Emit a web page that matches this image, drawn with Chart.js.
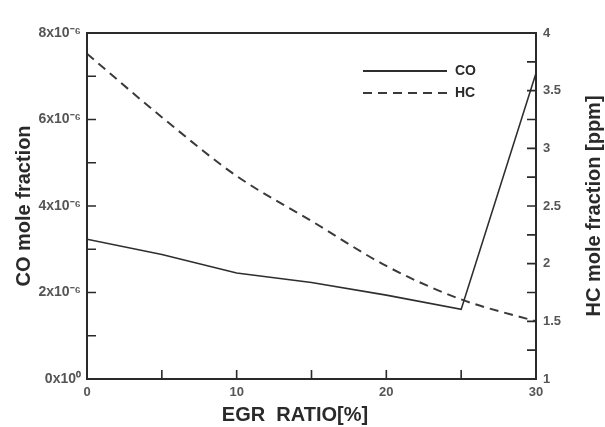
<!DOCTYPE html>
<html lang="en">
<head>
    <meta charset="UTF-8">
    <title>CO / HC mole fraction vs EGR ratio</title>
    <script src="https://cdn.jsdelivr.net/npm/chart.js"></script>
    <style>
        html, body { margin: 0; padding: 0; background: #fff; }
        #wrap { width: 605px; height: 427px; }
    </style>
</head>
<body>
    <div id="wrap"><canvas id="chart" width="605" height="427"></canvas></div>

    <script>
        // values
        const egrRatio = [0, 5, 10, 15, 20, 25, 30];
        const coFraction = [3.23e-6, 2.88e-6, 2.45e-6, 2.23e-6, 1.94e-6, 1.61e-6, 7.07e-6];
        const hcFraction = [3.82, 3.27, 2.76, 2.37, 1.98, 1.69, 1.5];

        const leftTicks = [0, 2, 4, 6, 8]; // x10^-6, labelled ones
        const xTickLabels = [0, 10, 20, 30];
        const rightTickLabels = [1, 1.5, 2, 2.5, 3, 3.5, 4];

        const FONT = "'Liberation Sans', Arial, sans-serif";
        const INK = "#2a2a2a";

        function toPoints(xs, ys) {
            return xs.map((x, i) => ({ x: x, y: ys[i] }));
        }

        // inward ticks, frame, legend and the axis titles
        const framePlugin = {
            id: "frame",
            afterDraw(chart) {
                const ctx = chart.ctx;
                const a = chart.chartArea;
                ctx.save();
                ctx.strokeStyle = INK;
                ctx.lineWidth = 1.6;
                const tick = 9;

                ctx.beginPath();
                chart.scales.x.ticks.forEach(t => {
                    const px = chart.scales.x.getPixelForValue(t.value);
                    ctx.moveTo(px, a.bottom);
                    ctx.lineTo(px, a.bottom - tick);
                });
                chart.scales.y.ticks.forEach(t => {
                    const py = chart.scales.y.getPixelForValue(t.value);
                    ctx.moveTo(a.left, py);
                    ctx.lineTo(a.left + tick, py);
                });
                chart.scales.y2.ticks.forEach(t => {
                    const py = chart.scales.y2.getPixelForValue(t.value);
                    ctx.moveTo(a.right, py);
                    ctx.lineTo(a.right - tick, py);
                });
                ctx.stroke();

                ctx.lineWidth = 2;
                ctx.strokeRect(a.left, a.top, a.right - a.left, a.bottom - a.top);

                // legend
                const items = chart.data.datasets;
                const lx0 = 363, lx1 = 447;
                items.forEach((ds, i) => {
                    const ly = 71 + i * 22;
                    ctx.beginPath();
                    ctx.setLineDash(ds.borderDash || []);
                    ctx.lineWidth = 1.8;
                    ctx.strokeStyle = ds.borderColor;
                    ctx.moveTo(lx0, ly);
                    ctx.lineTo(lx1, ly);
                    ctx.stroke();
                    ctx.setLineDash([]);
                    ctx.fillStyle = INK;
                    ctx.font = "bold 14px " + FONT;
                    ctx.textBaseline = "middle";
                    ctx.textAlign = "left";
                    ctx.fillText(ds.label, 455, ly);
                });

                ctx.fillStyle = INK;
                ctx.font = "bold 20px " + FONT;
                ctx.textAlign = "center";
                ctx.textBaseline = "middle";

                // x title sits a little left of centre in the original
                ctx.fillText("EGR  RATIO[%]", 295, 415);

                // right axis title, reading bottom to top
                ctx.translate(594, (a.top + a.bottom) / 2);
                ctx.rotate(-Math.PI / 2);
                ctx.fillText("HC mole fraction [ppm]", 0, 0);
                ctx.restore();
            }
        };

        new Chart(document.getElementById("chart"), {
            type: "scatter",
            data: {
                datasets: [
                    {
                        label: "CO",
                        data: toPoints(egrRatio, coFraction),
                        yAxisID: "y",
                        showLine: true,
                        borderColor: "#2e2e2e",
                        borderWidth: 1.6,
                        pointRadius: 0,
                        tension: 0,
                    },
                    {
                        label: "HC",
                        data: toPoints(egrRatio, hcFraction),
                        yAxisID: "y2",
                        showLine: true,
                        borderColor: "#3a3a3a",
                        borderWidth: 2,
                        borderDash: [9, 6],
                        pointRadius: 0,
                        cubicInterpolationMode: "monotone",
                    },
                ],
            },
            options: {
                responsive: false,
                animation: false,
                layout: { padding: { top: 33, left: 0, right: 0, bottom: 0 } },
                plugins: {
                    legend: { display: false },
                    tooltip: { enabled: false },
                },
                scales: {
                    x: {
                        type: "linear",
                        min: 0,
                        max: 30,
                        grid: { display: false, drawTicks: false },
                        border: { display: false },
                        afterFit: s => { s.height = 48; },
                        ticks: {
                            stepSize: 5,
                            padding: 6,
                            color: "#555",
                            font: { family: FONT, size: 13, weight: "bold" },
                            callback: v => xTickLabels.includes(v) ? String(v) : "",
                        },
                    },
                    y: {
                        position: "left",
                        min: 0,
                        max: 8e-6,
                        grid: { display: false, drawTicks: false },
                        border: { display: false },
                        afterFit: s => { s.width = 87; },
                        ticks: {
                            stepSize: 1e-6,
                            padding: 6,
                            color: "#555",
                            font: { family: FONT, size: 14, weight: "bold" },
                            callback: v => {
                                const n = Math.round(v / 1e-6);
                                if (!leftTicks.includes(n)) return "";
                                return n === 0 ? "0x10\u2070" : n + "x10\u207B\u2076";
                            },
                        },
                        title: {
                            display: true,
                            text: "CO mole fraction",
                            color: INK,
                            padding: 12,
                            font: { family: FONT, size: 20, weight: "bold" },
                        },
                    },
                    y2: {
                        position: "right",
                        min: 1,
                        max: 4,
                        grid: { display: false, drawTicks: false },
                        border: { display: false },
                        afterFit: s => { s.width = 69; },
                        ticks: {
                            stepSize: 0.25,
                            padding: 7,
                            color: "#555",
                            font: { family: FONT, size: 13, weight: "bold" },
                            callback: v => rightTickLabels.includes(v) ? String(v) : "",
                        },
                    },
                },
            },
            plugins: [framePlugin],
        });
    </script>
</body>
</html>
